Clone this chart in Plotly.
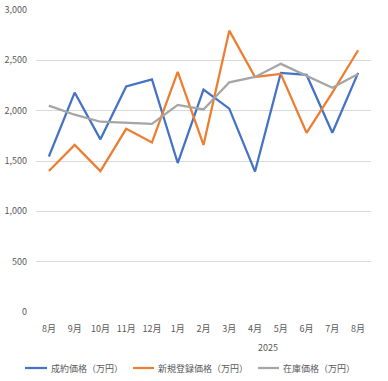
import plotly.graph_objects as go

months = ["8月", "9月", "10月", "11月", "12月", "1月", "2月", "3月", "4月", "5月", "6月", "7月", "8月"]
year_label = "2025"
seiyaku = [1545, 2180, 1715, 2240, 2310, 1480, 2210, 2020, 1395, 2375, 2355, 1780, 2375]
shinki = [1400, 1660, 1400, 1820, 1685, 2385, 1660, 2795, 2335, 2365, 1780, 2180, 2600]
zaiko = [2050, 1960, 1890, 1878, 1868, 2058, 2012, 2282, 2335, 2465, 2345, 2228, 2365]
series_names = ["成約価格（万円）", "新規登録価格（万円）", "在庫価格（万円）"]
colors = ["#4472C4", "#ED7D31", "#A5A5A5"]

W, H = 388, 381
L, R, T, B = 36, 17, 10, 69
pw, ph = W - L - R, H - T - B

def px_x(p):
    return (p - L) / pw

def px_y(p):
    return (H - B - p) / ph

x = list(range(len(months)))
font = dict(family="Noto Sans CJK JP, sans-serif", size=9, color="#595959")

fig = go.Figure()
for name, vals, c in zip(series_names, [seiyaku, shinki, zaiko], colors):
    fig.add_trace(go.Scatter(x=x, y=vals, name=name, mode="lines",
                             line=dict(color=c, width=2.25), showlegend=False))

fig.update_layout(
    width=W, height=H,
    margin=dict(l=L, r=R, t=T, b=B, autoexpand=False),
    plot_bgcolor="white", paper_bgcolor="white",
    font=font,
    showlegend=False,
)
fig.update_xaxes(range=[-0.5, len(months) - 0.5], tickvals=x, ticktext=months,
                 showgrid=False, zeroline=False, showline=False, ticks="",
                 ticklabelstandoff=10, tickfont=font)
fig.update_yaxes(range=[0, 3000], dtick=500, tickformat=",", showgrid=True,
                 gridcolor="#D9D9D9", gridwidth=1, zeroline=False, showline=False,
                 ticks="", ticklabelstandoff=8, tickfont=font)
fig.add_annotation(x=(5 + 12) / 2, y=0, xref="x", yref="paper", yshift=-35,
                   text=year_label, showarrow=False, font=font)
fig.layout.annotations[-1].yshift = -44

# legend (drawn manually to match layout)
leg_y = 368
leg_items = [(25, 47, 49), (133, 154, 156), (258, 279, 281)]
for (x0, x1, tx), name, c in zip(leg_items, series_names, colors):
    fig.add_shape(type="line", xref="paper", yref="paper",
                  x0=px_x(x0), x1=px_x(x1), y0=px_y(leg_y), y1=px_y(leg_y),
                  line=dict(color=c, width=2.25))
    fig.add_annotation(x=px_x(tx), y=px_y(leg_y), xref="paper", yref="paper",
                       text=name, showarrow=False, xanchor="left", yanchor="middle",
                       font=font)

fig.write_html("out.html", config={"displayModeBar": False},
               post_script="document.body.style.margin='0';document.body.style.overflow='hidden';")
